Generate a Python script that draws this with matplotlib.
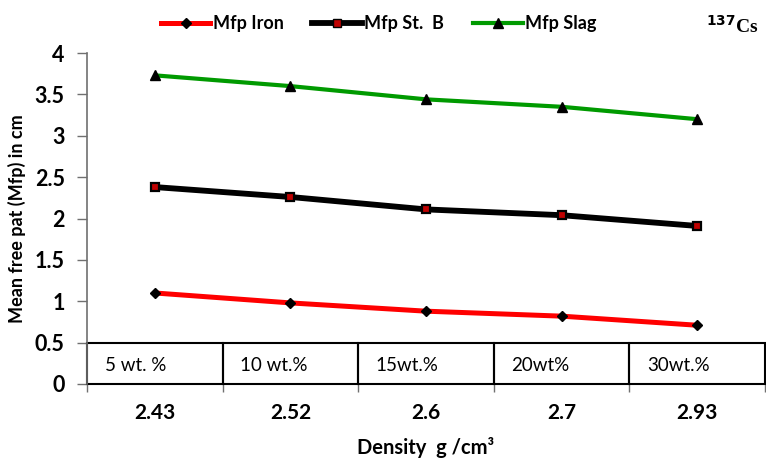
import matplotlib
matplotlib.use('Agg')
import matplotlib.pyplot as plt
from matplotlib.patches import Rectangle

plt.rcParams['font.family'] = ['Lato', 'DejaVu Sans']

densidad = ['2.43', '2.52', '2.6', '2.7', '2.93']
porcentaje = ['5 wt. %', '10 wt.%', '15wt.%', '20wt%', '30wt.%']
mfp_iron = [1.10, 0.98, 0.88, 0.82, 0.71]
mfp_stb = [2.38, 2.26, 2.11, 2.04, 1.91]
mfp_slag = [3.73, 3.60, 3.44, 3.35, 3.20]

fig = plt.figure(figsize=(7.66, 4.59), dpi=100)
ax = fig.add_axes([0.1136, 0.1634, 0.8851, 0.7211])

x = [i + 0.5 for i in range(len(densidad))]

# lineas gruesas y marcadores encima
ax.plot(x, mfp_iron, color='#ff0000', lw=3.6, zorder=3, solid_capstyle='butt')
ax.plot(x, mfp_stb, color='black', lw=4.2, zorder=3, solid_capstyle='butt')
ax.plot(x, mfp_slag, color='#009a00', lw=3.0, zorder=3, solid_capstyle='butt')
ax.plot(x, mfp_iron, ls='none', marker='D', ms=5.5, mfc='black', mec='black', zorder=4)
ax.plot(x, mfp_stb, ls='none', marker='s', ms=6, mfc='#c00000', mec='black', mew=1.6, zorder=4)
ax.plot(x, mfp_slag, ls='none', marker='^', ms=7, mfc='black', mec='black', zorder=4)

# leyenda con lineas de muestra
h1, = ax.plot([], [], color='#ff0000', lw=3.6, marker='D', ms=5, mfc='black', mec='black')
h2, = ax.plot([], [], color='black', lw=4.2, marker='s', ms=6, mfc='#c00000', mec='black')
h3, = ax.plot([], [], color='#009a00', lw=3.0, marker='^', ms=7, mfc='black', mec='black')
fig.legend([h1, h2, h3], ['Mfp Iron', 'Mfp St.  B', 'Mfp Slag'], loc='center',
           bbox_to_anchor=(0.494, 0.948), ncol=3, frameon=False, handlelength=2.75,
           columnspacing=1.6, handletextpad=0.12, prop={'weight': 'bold', 'size': 13})
fig.text(0.99, 0.943, r'$^{\mathbf{137}}$Cs', fontsize=14, fontweight='bold',
         ha='right', va='center', family='Liberation Serif')

# tabla de porcentajes dentro del eje
for i, p in enumerate(porcentaje):
    ax.add_patch(Rectangle((i, 0), 1, 0.5, fill=False, ec='black', lw=1.5, zorder=2,
                           clip_on=False))
    ax.text(i + 0.13, 0.22, p, ha='left', va='center', fontsize=13.5, zorder=3)

ax.set_xlim(0, 5)
ax.set_ylim(0, 4)
ax.set_yticks([0, 0.5, 1, 1.5, 2, 2.5, 3, 3.5, 4])
ax.set_yticklabels(['0', '0.5', '1', '1.5', '2', '2.5', '3', '3.5', '4'])
ax.set_xticks(range(6))
ax.set_xticklabels([])
ax.set_xticks(x, minor=True)
ax.set_xticklabels(densidad, minor=True)
ax.tick_params(axis='x', which='minor', length=0, pad=14, labelsize=15)
ax.tick_params(axis='x', which='major', length=6, width=1, color='#707070', direction='out')
ax.tick_params(axis='y', length=7, width=1, color='#707070', direction='out', labelsize=15.5,
               pad=9)
for lab in ax.get_xticklabels(minor=True) + ax.get_yticklabels():
    lab.set_fontweight('bold')

for s in ['top', 'right']:
    ax.spines[s].set_visible(False)
ax.spines['left'].set_color('#707070')
ax.spines['left'].set_linewidth(1.2)
ax.spines['bottom'].set_visible(False)

ax.set_ylabel('Mean free pat (Mfp) in cm', fontweight='bold', fontsize=13, labelpad=6)
ax.set_xlabel('Density  g /cm³', fontweight='bold', fontsize=14.5, labelpad=10)

fig.savefig('out.png', dpi=100)
